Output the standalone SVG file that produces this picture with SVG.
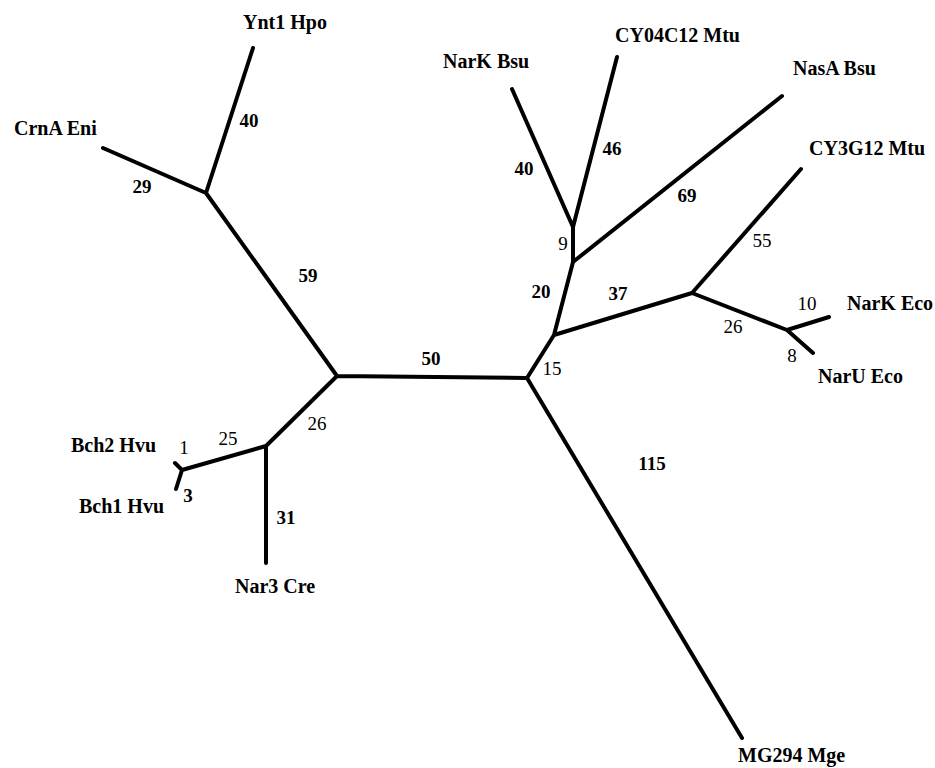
<svg xmlns="http://www.w3.org/2000/svg" width="935" height="768" viewBox="0 0 935 768">
<style>
.e{stroke:#000;stroke-width:4;stroke-linecap:round;fill:none}
.lb{font-family:"Liberation Serif",serif;font-weight:bold;font-size:20px;fill:#000}
.n{font-family:"Liberation Serif",serif;font-weight:bold;font-size:19px;fill:#000;text-anchor:middle}
.r{font-weight:normal}
</style>
<rect width="935" height="768" fill="#fff"/>
<g id="connectors">
<path class="e" d="M206,193L253,48M206,193L103,148M206,193L337,376M337,376L527,378M337,376L266,446M266,446L266,563M266,446L182,470M182,470L175,463M182,470L176,489M527,378L554,335M527,378L742,738M554,335L573,262M573,262L573,227M573,227L512,89M573,227L617,57M573,262L782,96M554,335L692,293M692,293L801,169M692,293L787,330M787,330L829,317M787,330L813,353"/>
<g id="branch-lengths">
<text class="n" x="249" y="127">40</text>
<text class="n" x="142" y="193">29</text>
<text class="n" x="308" y="282">59</text>
<text class="n" x="431" y="365">50</text>
<text class="n r" x="317" y="430">26</text>
<text class="n r" x="228" y="445">25</text>
<text class="n r" x="184" y="454">1</text>
<text class="n" x="188" y="502">3</text>
<text class="n" x="286" y="524">31</text>
<text class="n r" x="552" y="375">15</text>
<text class="n" x="541" y="298">20</text>
<text class="n r" x="563" y="250">9</text>
<text class="n" x="524" y="175">40</text>
<text class="n" x="612" y="155">46</text>
<text class="n" x="687" y="202">69</text>
<text class="n" x="618" y="300">37</text>
<text class="n r" x="762" y="247">55</text>
<text class="n r" x="733" y="333">26</text>
<text class="n r" x="807" y="310">10</text>
<text class="n r" x="792" y="362">8</text>
<text class="n" x="652" y="470">115</text>
</g>
</g>
<g id="Ynt1_Hpo"><text class="lb" x="243" y="29">Ynt1 Hpo</text></g>
<g id="CrnA_Eni"><text class="lb" x="14" y="135">CrnA Eni</text></g>
<g id="Bch2_Hvu"><text class="lb" x="71" y="452">Bch2 Hvu</text></g>
<g id="Bch1_Hvu"><text class="lb" x="79" y="513">Bch1 Hvu</text></g>
<g id="Nar3_Cre"><text class="lb" x="235" y="593">Nar3 Cre</text></g>
<g id="NarK_Bsu"><text class="lb" x="443" y="68">NarK Bsu</text></g>
<g id="CY04C12_Mtu"><text class="lb" x="615" y="42">CY04C12 Mtu</text></g>
<g id="NasA_Bsu"><text class="lb" x="793" y="75">NasA Bsu</text></g>
<g id="CY3G12_Mtu"><text class="lb" x="809" y="155">CY3G12 Mtu</text></g>
<g id="NarK_Eco"><text class="lb" x="847" y="310">NarK Eco</text></g>
<g id="NarU_Eco"><text class="lb" x="818" y="383">NarU Eco</text></g>
<g id="MG294_Mge"><text class="lb" x="738" y="762">MG294 Mge</text></g>
</svg>
